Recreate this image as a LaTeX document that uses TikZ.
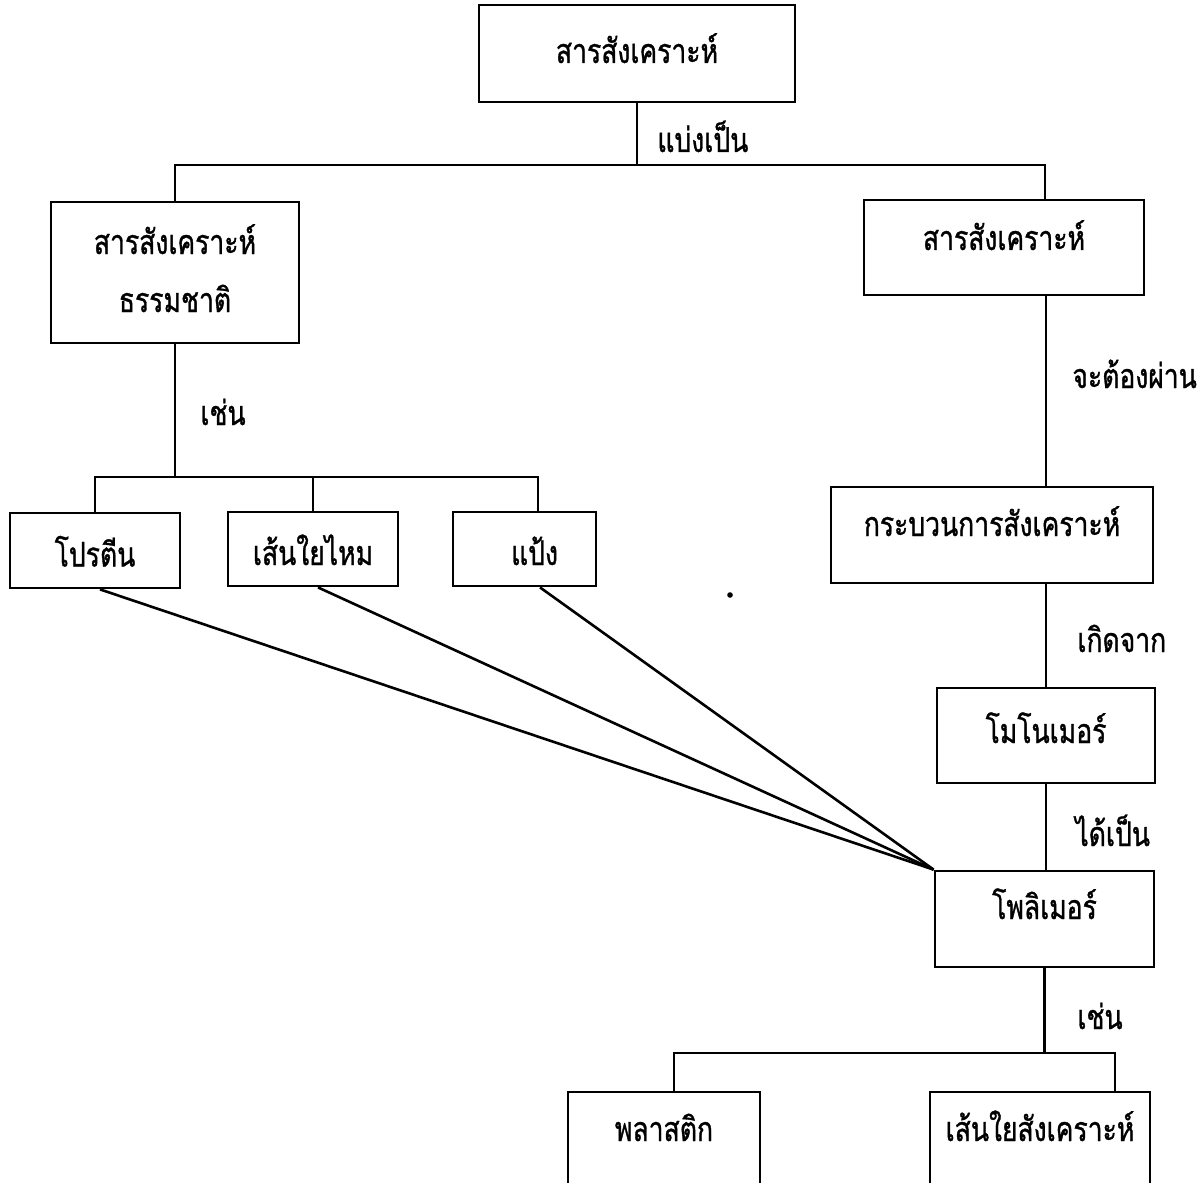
\documentclass[tikz,border=0pt]{standalone}
\usepackage{fontspec}
\newfontfamily\thaifont[Script=Thai, FakeStretch=0.78, FakeBold=1]{Loma}
\usetikzlibrary{calc}
% raise the box text by #1 without changing its size
\newcommand\tx[2]{\raisebox{#1}[0pt][0pt]{#2}}
\tikzset{
  box/.style={draw, line width=1.4pt, inner sep=0pt, font=\thaifont\fontsize{17}{29}\selectfont},
  lbl/.style={inner sep=0pt, anchor=base west, font=\thaifont\fontsize{17}{29}\selectfont},
  conn/.style={line width=1.3pt},
}
\begin{document}
\begin{tikzpicture}[x=0.5pt,y=-0.5pt]
\useasboundingbox (0,0) rectangle (1197,1182);
\clip (0,0) rectangle (1197,1182);

% boxes
\node[box, minimum width=158pt, minimum height=48.5pt] (top) at (637,53.5) {\tx{-4.75pt}{สารสังเคราะห์}};
\node[box, minimum width=124pt, minimum height=70.5pt] (nat) at (175,272.5)
  {\tx{-19.75pt}{\begin{tabular}[b]{@{}c@{}}สารสังเคราะห์\\ธรรมชาติ\end{tabular}}};
\node[box, minimum width=140pt, minimum height=47.5pt] (syn) at (1004,247.5) {\tx{-1.25pt}{สารสังเคราะห์}};
\node[box, minimum width=85pt, minimum height=37.5pt] (prot) at (95,550.5) {\tx{-8pt}{โปรตีน}};
\node[box, minimum width=85pt, minimum height=37pt] (silk) at (313,549) {\tx{-8pt}{เส้นใยไหม}};
\node[box, minimum width=71.5pt, minimum height=37pt] (starch) at (524.5,549) {\tx{-8pt}{\hspace{10pt}แป้ง}};
\node[box, minimum width=161pt, minimum height=48pt] (proc) at (992,535) {\tx{-0.5pt}{กระบวนการสังเคราะห์}};
\node[box, minimum width=109pt, minimum height=47.5pt] (mono) at (1046,735.5) {\tx{-3.75pt}{โมโนเมอร์}};
\node[box, minimum width=109.5pt, minimum height=48pt] (poly) at (1044.5,919) {\tx{0pt}{โพลิเมอร์}};
\node[box, minimum width=96pt, minimum height=49pt] (plast) at (664,1141) {\tx{0pt}{พลาสติก}};
\node[box, minimum width=110pt, minimum height=49pt] (fib) at (1040,1141) {\tx{0pt}{เส้นใยสังเคราะห์}};

% junction points of the brackets
\coordinate (j1) at (1045,165);
\coordinate (j2) at (538,477);
\coordinate (spine) at (1046,0);
\coordinate (j3l) at (674,1053);
\coordinate (j3r) at (1115,1053);

% top split
\draw[conn] (top.south) -- (top.south |- j1);
\draw[conn] (nat.north) |- (j1) -- (j1 |- syn.north);
\node[lbl] (divide) at (657,152) {แบ่งเป็น};

% natural substances
\draw[conn] (nat.south) -- (nat.south |- j2);
\draw[conn] (prot.north) |- (j2) -- (j2 |- starch.north);
\draw[conn] (silk.north) -- (silk.north |- j2);
\node[lbl] (eg1) at (200,425) {เช่น};

% synthetic chain
\draw[conn] (syn.south -| spine) -- (proc.north -| spine);
\node[lbl] (must) at (1072,388) {จะต้องผ่าน};
\draw[conn] (proc.south -| spine) -- (mono.north -| spine);
\node[lbl] (from) at (1077,652) {เกิดจาก};
\draw[conn] (mono.south -| spine) -- (poly.north -| spine);
\node[lbl] (gives) at (1075,846) {ได้เป็น};

% fan of lines into the polymer box
\draw[conn] ([xshift=2.5pt]prot.south) -- (poly.north west);
\draw[conn] ([xshift=2.5pt]silk.south) -- (poly.north west);
\draw[conn] ([xshift=7.75pt]starch.south) -- (poly.north west);

% polymer examples
\draw[conn] (poly.south) -- (poly.south |- j3l);
\draw[conn] (j3l |- plast.north) -- (j3l) -- (j3r) -- (j3r |- fib.north);
\node[lbl] (eg2) at (1077,1029) {เช่น};

% small speck
\fill (730,595) circle (1.4pt);
\end{tikzpicture}
\end{document}
